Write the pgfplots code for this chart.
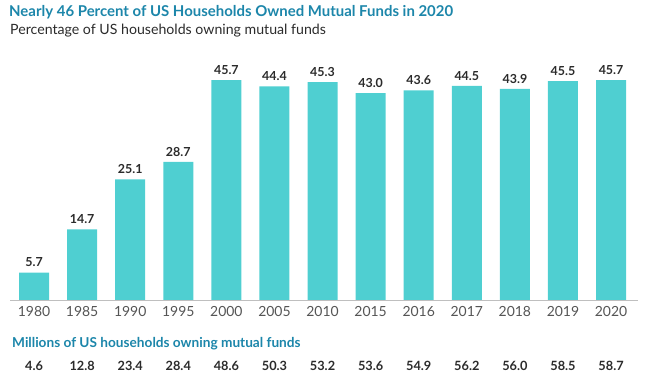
\documentclass[border=0pt]{standalone}
\usepackage{pgfplots}
\pgfplotsset{compat=1.18}
\usepackage{pgfplotstable}
\usepackage{fontspec}
\setmainfont{Lato}
\definecolor{barc}{HTML}{4FCFD1}
\definecolor{ttl}{HTML}{1C86AA}
\definecolor{txt}{HTML}{2B2B2B}
\definecolor{tck}{HTML}{555555}
\pgfplotstableread{
idx year pct mil
0 1980 5.7 4.6
1 1985 14.7 12.8
2 1990 25.1 23.4
3 1995 28.7 28.4
4 2000 45.7 48.6
5 2005 44.4 50.3
6 2010 45.3 53.2
7 2015 43.0 53.6
8 2016 43.6 54.9
9 2017 44.5 56.2
10 2018 43.9 56.0
11 2019 45.5 58.5
12 2020 45.7 58.7
}\data
\begin{document}
\begin{tikzpicture}
\path[use as bounding box] (0,0) rectangle (666bp,390bp);
\node[anchor=west, text=ttl, font=\fontsize{15}{18}\selectfont\bfseries, inner sep=0] at (9bp,378bp) {Nearly 46 Percent of US Households Owned Mutual Funds in 2020};
\node[anchor=west, text=txt, font=\fontsize{14.2}{16}\selectfont, inner sep=0] at (10bp,359bp) {Percentage of US households owning mutual funds};
\node[anchor=west, text=ttl, font=\fontsize{13.7}{16}\selectfont\bfseries, inner sep=0] at (12bp,46bp) {Millions of US households owning mutual funds};
\begin{axis}[
  at={(10bp,90bp)}, anchor=south west,
  scale only axis, width=628bp, height=240.5bp,
  xmin=-0.5, xmax=12.56, ymin=0, ymax=50,
  axis y line=none, axis x line*=bottom,
  x axis line style={draw=black!25, line width=0.8pt},
  xtick={0,...,12},
  xticklabels from table={\data}{year},
  major tick length=0pt,
  tick label style={font=\fontsize{14}{16}\selectfont, text=tck},
  xticklabel style={yshift=-3bp},
  clip=false,
]
\addplot[ybar, bar width=30bp, fill=barc, draw=none,
  nodes near coords,
  every node near coord/.append style={font=\fontsize{12.5}{14}\selectfont\bfseries, text=txt, /pgf/number format/fixed, /pgf/number format/precision=1, /pgf/number format/fixed zerofill, /pgf/number format/assume math mode=true, yshift=2bp}
] table[x=idx, y=pct] {\data};
\addplot[draw=none, mark=none,
  nodes near coords, point meta=explicit symbolic,
  every node near coord/.append style={anchor=center, font=\fontsize{12.8}{14}\selectfont\bfseries, text=txt}
] table[x=idx, y expr=-13.7, meta=mil] {\data};
\end{axis}
\end{tikzpicture}
\end{document}
